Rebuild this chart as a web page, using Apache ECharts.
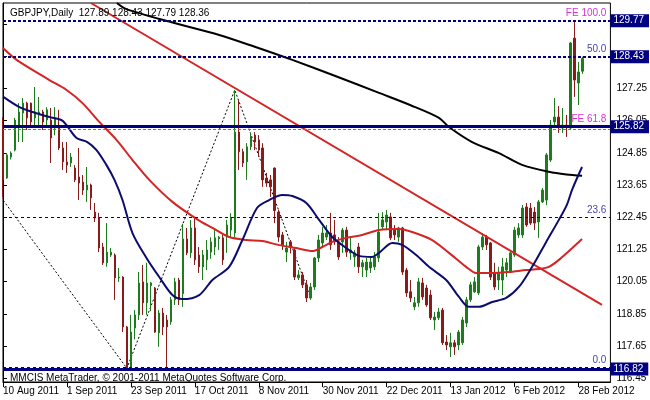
<!DOCTYPE html>
<html><head><meta charset="utf-8">
<script src="https://cdn.jsdelivr.net/npm/echarts@6/dist/echarts.min.js"></script>
<style>html,body{margin:0;padding:0;background:#fff}#c{width:650px;height:400px}</style>
</head><body><div id="c"></div>
<script>
// ---------- data ----------
const tickLabels = ['10 Aug 2011','1 Sep 2011','23 Sep 2011','17 Oct 2011','8 Nov 2011','30 Nov 2011','22 Dec 2011','13 Jan 2012','6 Feb 2012','28 Feb 2012'];
const priceTicks = [116.45,117.65,118.85,120.05,121.25,122.45,123.65,124.85,126.05,127.25,128.45,129.65];

const O = [125.70,123.91,124.69,124.95,125.88,126.33,126.70,126.70,126.15,126.26,126.37,126.07,126.07,125.77,125.77,125.03,124.51,124.47,124.28,123.95,
123.76,123.46,123.65,122.64,122.42,121.34,120.75,121.04,121.04,120.19,120.22,118.36,116.87,118.32,118.81,120.04,119.26,119.90,119.81,118.14,
118.88,118.62,118.55,119.37,120.11,119.60,121.64,121.12,122.05,121.04,120.60,120.86,121.15,121.34,121.65,121.68,121.71,121.97,121.86,125.62,
124.89,124.51,125.07,125.51,125.33,125.03,123.91,123.84,124.28,122.64,121.79,121.15,121.53,121.23,120.19,120.30,119.93,119.44,119.85,120.93,
121.49,121.71,121.86,121.79,121.53,121.53,121.97,121.12,120.97,121.34,120.60,120.48,120.56,120.60,120.93,122.09,122.27,122.46,121.97,121.71,
122.05,120.48,119.67,119.11,119.26,120.00,119.81,119.55,118.62,118.70,118.99,117.80,117.62,117.77,117.69,117.77,118.51,119.37,119.67,119.63,
121.34,121.71,121.49,120.37,120.11,120.11,120.48,120.41,121.04,121.79,121.79,122.83,122.79,122.64,122.27,123.02,123.09,124.58,126.00,126.18,
125.77,125.88,125.77,129.12,127.45,127.89];
const H = [126.18,124.84,124.90,126.15,126.70,126.89,126.75,126.72,127.30,126.93,126.45,126.55,126.52,126.55,126.45,125.25,125.25,124.84,124.39,125.03,
124.02,124.32,123.70,122.98,122.61,121.49,122.23,121.30,121.10,120.56,120.25,118.40,118.81,118.99,120.41,120.67,120.75,120.04,119.85,118.99,
119.07,118.81,119.48,120.19,120.19,122.20,122.05,122.35,122.46,121.34,121.23,121.60,121.70,121.97,121.75,121.79,122.35,122.60,127.19,126.82,
125.00,125.21,125.59,125.62,125.51,125.21,124.10,124.02,124.30,122.72,121.90,121.53,121.60,121.34,120.48,120.41,120.11,120.00,120.97,121.79,
122.09,122.16,122.61,122.35,121.71,122.05,122.09,121.71,121.23,121.49,120.86,120.93,120.97,121.15,122.61,122.64,122.72,122.61,122.16,122.09,
122.09,120.56,120.11,119.48,120.19,120.19,119.93,119.74,118.92,119.07,119.07,118.06,118.14,117.88,118.25,118.73,119.48,120.04,120.22,121.42,
121.86,121.79,121.53,120.75,120.60,120.93,120.93,121.23,122.09,122.23,122.90,122.98,122.98,122.83,123.09,123.54,124.84,126.07,126.89,126.59,
126.52,126.26,128.98,129.77,128.23,128.43];
const L = [123.20,123.88,124.60,124.90,125.25,125.25,125.70,125.81,125.81,125.88,125.70,125.85,124.47,125.50,124.95,124.21,124.10,124.32,123.76,123.09,
123.28,123.02,122.72,122.27,121.15,120.67,120.60,120.97,119.37,120.04,118.17,116.82,116.83,117.90,118.62,118.81,118.81,118.95,118.14,117.62,
118.06,116.87,118.44,119.18,119.18,119.11,121.04,120.93,120.67,120.37,120.11,120.48,120.90,121.04,121.23,120.67,121.12,121.70,121.70,124.21,
124.32,123.84,124.95,124.95,124.69,123.58,123.58,123.20,122.23,121.53,121.23,120.78,121.10,120.11,120.11,119.81,119.29,119.37,119.74,120.78,
121.34,121.60,121.23,121.42,120.86,121.12,120.97,120.86,120.60,120.37,120.22,120.22,120.37,120.48,120.78,121.97,121.97,121.60,121.60,121.53,
120.30,119.48,119.29,118.99,119.11,119.37,119.11,118.62,118.25,118.62,117.69,117.50,117.24,117.32,117.50,117.69,118.36,119.29,119.63,119.55,
121.23,121.23,120.11,119.74,119.74,119.55,120.22,120.37,120.97,121.68,121.68,122.09,122.16,121.97,121.68,122.98,122.90,124.51,125.77,125.59,
125.59,125.44,125.70,126.93,126.63,127.79];
const C = [123.84,124.77,124.84,126.07,126.37,126.70,126.15,126.00,126.37,126.37,126.00,126.45,125.40,126.15,125.03,124.51,124.39,124.69,123.84,123.72,
123.46,123.65,123.17,122.42,121.30,120.75,121.15,121.15,120.19,120.22,118.36,116.87,118.17,118.81,120.00,119.26,120.00,120.00,118.17,118.88,
118.36,118.36,119.37,120.04,119.37,121.64,121.12,122.05,120.86,120.60,121.04,121.23,121.53,121.68,121.71,120.86,122.16,122.42,125.62,124.89,
124.47,125.07,125.44,125.25,124.95,123.84,123.72,123.58,122.70,121.71,121.42,121.30,121.34,120.22,120.30,119.93,119.44,119.85,120.93,121.60,
121.86,121.86,121.42,121.53,120.97,121.97,121.15,121.23,121.12,120.60,120.75,120.78,120.78,120.97,121.90,122.35,122.53,121.68,121.79,122.05,
120.41,119.63,119.44,119.26,120.04,119.48,119.18,118.70,118.73,118.92,117.77,117.69,117.77,117.62,118.17,118.62,119.37,119.93,120.04,121.34,
121.71,121.42,120.22,119.85,120.37,120.60,120.75,121.12,121.97,122.05,122.79,122.16,122.23,122.23,123.02,123.46,124.77,125.88,126.18,125.88,
125.88,125.81,128.94,127.56,127.86,128.36];

// moving averages, [bar position, price] points
const maBlack = [[28.5,130.43],[30.9,130.20],[42,129.72],[54.1,129.24],[63,128.80],[72.4,128.31],[83,127.72],[94.1,127.08],[102,126.62],[109.1,126.15],
[111.6,125.81],[117.4,125.25],[124.1,124.84],[129.9,124.40],[136.6,124.14],[141,124.04],[144.9,123.99]];
const maNavy = [[0,126.94],[4.1,126.55],[7.4,126.37],[11.6,126.18],[14.6,126.07],[15.9,125.88],[18.4,125.40],[21.1,125.25],[23.4,124.95],[25.9,124.39],
[27.9,123.84],[29.9,123.09],[32.4,121.86],[35.9,120.93],[39.1,120.22],[42.4,119.55],[44.9,119.40],[49.1,119.55],[52.4,120.11],[56.6,120.60],
[59.9,121.60],[63.6,122.80],[66.6,123.09],[69.9,123.28],[72.4,123.24],[75.9,122.98],[79.1,122.35],[82.4,121.71],[85.9,121.30],[89.1,121.01],
[92.4,120.97],[94.1,121.12],[97.4,121.49],[99.9,121.42],[103.4,121.04],[106.6,120.60],[110.9,120.11],[114.1,119.48],[116.6,119.11],[119.1,119.11],
[122.4,119.29],[125.9,119.44],[129.1,119.85],[132.4,120.60],[135.9,121.52],[139.1,122.35],[141.1,122.91],[142.4,123.47],[144.9,124.32]];
const maRed = [[0,128.75],[3.4,128.31],[11.6,127.56],[15.9,127.19],[19.9,126.70],[24.1,126.00],[28.4,125.33],[32.4,124.58],[36.6,123.84],[42.4,123.02],
[48.4,122.39],[52.4,122.05],[56.6,121.71],[60.9,121.60],[64.9,121.56],[69.1,121.41],[73.4,121.30],[77.4,121.19],[79.9,121.34],[82.4,121.53],
[85.9,121.68],[89.9,121.79],[94.1,121.97],[99.1,122.01],[102.4,121.90],[107.4,121.60],[111.6,121.12],[115.9,120.60],[118.4,120.37],[122.4,120.37],
[126.6,120.41],[130.9,120.48],[134.1,120.52],[136.6,120.60],[139.1,120.86],[144.9,121.64]];

const trendLine = [[22.0,130.43],[149.9,119.18]];
const fiboPath = [[-0.5,123.19],[31,116.82],[58,127.19],[77,119.43]];

const priceBoxes = [129.77,128.43,125.82,116.82];
const fiboLevels = [129.77,128.43,125.82,122.45,116.86];
const fiboTexts = ['FE 100.0','50.0','FE 61.8','23.6','0.0'];
const title = 'GBPJPY,Daily  127.89 128.43 127.79 128.36';
const copyright = 'MMCIS MetaTrader, \u00A9 2001-2011 MetaQuotes Software Corp.';

// ---------- chart ----------
const FONT = 'Liberation Sans';
const FS = 10;
const NAVY = '#000080';
const MAG = '#d633d6';
const FIBTXT = '#4646b4';
const CLEAR = 'rgba(0,0,0,0)';
const nCat = 153;
const cats = Array.from({length:nCat}, (_, i) => String(i));
const candles = O.map((o, i) => [o, C[i], L[i], H[i]]);

const boxLabel = v => ({show:true, position:'end', distance:0, formatter: v.toFixed(2),
  color:'#fff', backgroundColor:NAVY, padding:[2,5,1,3], fontSize:FS, fontFamily:FONT});
const textLabel = (t, col) => ({show:true, position:'insideEndTop', distance:[4,2], formatter:t,
  color:col, fontSize:FS, fontFamily:FONT});

const markData = [
  {yAxis: priceBoxes[0], lineStyle:{color:NAVY, width:2, type:[3,2]}, label: boxLabel(priceBoxes[0])},
  {yAxis: fiboLevels[0], lineStyle:{color:CLEAR, width:1}, label: textLabel(fiboTexts[0], MAG)},
  {yAxis: priceBoxes[1], lineStyle:{color:NAVY, width:2, type:[3,2]}, label: boxLabel(priceBoxes[1])},
  {yAxis: fiboLevels[1], lineStyle:{color:CLEAR, width:1}, label: textLabel(fiboTexts[1], FIBTXT)},
  {yAxis: fiboLevels[2] - 0.11, lineStyle:{color:MAG, width:1, type:[3,2]}, label:{show:false}},
  {yAxis: priceBoxes[2], lineStyle:{color:NAVY, width:3, type:'solid'}, label: boxLabel(priceBoxes[2])},
  {yAxis: fiboLevels[2], lineStyle:{color:CLEAR, width:1}, label: textLabel(fiboTexts[2], MAG)},
  {yAxis: fiboLevels[3], lineStyle:{color:NAVY, width:1, type:[3,3]}, label: textLabel(fiboTexts[3], FIBTXT)},
  {yAxis: fiboLevels[4], lineStyle:{color:NAVY, width:1, type:[3,3]}, label: textLabel(fiboTexts[4], FIBTXT)},
  {yAxis: priceBoxes[3] - 0.03, lineStyle:{color:NAVY, width:3, type:'solid'}, label: boxLabel(priceBoxes[3])}
];

const chart = echarts.init(document.getElementById('c'), null, {renderer:'canvas'});
chart.setOption({
  animation: false,
  backgroundColor: '#fff',
  title: [
    {text: title, left: 5, top: 3, textStyle:{fontSize:FS, fontWeight:'normal', color:'#000', fontFamily:FONT}},
    {text: copyright, left: 5, top: 368, textStyle:{fontSize:FS, fontWeight:'normal', color:'#000', fontFamily:FONT}}
  ],
  grid: {left:3, right:39, top:3, bottom:18, show:true, borderColor:'#000', borderWidth:1, backgroundColor:'#fff'},
  xAxis: [
    {type:'category', data:cats, boundaryGap:false,
     axisLine:{show:true, lineStyle:{color:'#000', width:1}},
     axisTick:{show:true, length:5, interval:(i) => i % 16 === 0, lineStyle:{color:'#000'}},
     axisLabel:{show:true, interval:(i) => i % 16 === 0, align:'left', margin:4,
       formatter:(v, i) => (i % 16 === 0 && tickLabels[i/16]) ? tickLabels[i/16] : '',
       color:'#000', fontSize:FS, fontFamily:FONT},
     splitLine:{show:false}},
    {type:'value', min:0, max:nCat-1, show:false}
  ],
  yAxis: {type:'value', position:'right', min:116.31, max:130.43, scale:true,
    axisLine:{show:true, lineStyle:{color:'#000'}},
    axisTick:{show:true, length:4, customValues: priceTicks, lineStyle:{color:'#000'}},
    axisLabel:{show:true, customValues: priceTicks, margin:6, formatter: v => v.toFixed(2),
      color:'#000', fontSize:FS, fontFamily:FONT},
    splitLine:{show:false}},
  series: [
    {type:'candlestick', data:candles, barWidth:2, z:3,
     itemStyle:{color:'#1d7d1d', color0:'#8b1a1a', borderColor:'#1d7d1d', borderColor0:'#8b1a1a', borderWidth:1},
     markLine:{silent:true, symbol:['none','none'], animation:false, data: markData}},
    {type:'line', xAxisIndex:1, data:fiboPath, symbol:'none', z:2,
     lineStyle:{color:'#000', width:1, type:[2,2]}},
    {type:'line', xAxisIndex:1, data:trendLine, symbol:'none', z:4,
     lineStyle:{color:'#d42424', width:2}},
    {type:'line', xAxisIndex:1, data:maBlack, symbol:'none', smooth:0.3, z:4,
     lineStyle:{color:'#000', width:2}},
    {type:'line', xAxisIndex:1, data:maRed, symbol:'none', smooth:0.3, z:4,
     lineStyle:{color:'#d42424', width:2}},
    {type:'line', xAxisIndex:1, data:maNavy, symbol:'none', smooth:0.3, z:4,
     lineStyle:{color:'#0c0c6e', width:2}}
  ]
});
</script>
</body></html>
